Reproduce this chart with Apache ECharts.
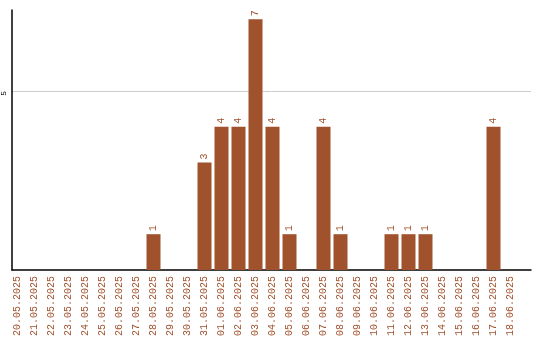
<!DOCTYPE html>
<html><head><meta charset="utf-8">
<script src="https://cdn.jsdelivr.net/npm/echarts@6/dist/echarts.min.js"></script>
<style>html,body{margin:0;padding:0;background:#fff}#c{width:540px;height:340px}</style>
</head><body><div id="c"></div>
<script>
const categories = ["20.05.2025","21.05.2025","22.05.2025","23.05.2025","24.05.2025","25.05.2025","26.05.2025","27.05.2025","28.05.2025","29.05.2025","30.05.2025","31.05.2025","01.06.2025","02.06.2025","03.06.2025","04.06.2025","05.06.2025","06.06.2025","07.06.2025","08.06.2025","09.06.2025","10.06.2025","11.06.2025","12.06.2025","13.06.2025","14.06.2025","15.06.2025","16.06.2025","17.06.2025","18.06.2025"];
const values = [null,null,null,null,null,null,null,null,1,null,null,3,4,4,7,4,1,null,4,1,null,null,1,1,1,null,null,null,4,null];
const yTicks = [5];

const color = '#A0522D';
const font = 'Liberation Mono';
const yMax = 7.26;
const chart = echarts.init(document.getElementById('c'), null, {renderer:'canvas'});
chart.setOption({
  animation:false,
  grid:[
    {left:9,width:510,top:10,bottom:70,containLabel:false},
    {left:11,right:9,top:10,bottom:70,containLabel:false}
  ],
  xAxis:[
    {type:'category',data:categories,gridIndex:0,
      axisLine:{show:false},
      axisTick:{show:false},
      axisLabel:{rotate:90,interval:0,color:color,fontFamily:font,fontSize:10,margin:6}
    },
    {type:'value',gridIndex:1,min:0,max:1,
      axisLine:{show:true,onZero:false,lineStyle:{color:'#000',width:1.5}},
      axisTick:{show:false},axisLabel:{show:false},splitLine:{show:false}
    }
  ],
  yAxis:[
    {type:'value',gridIndex:0,min:0,max:yMax,show:false,splitLine:{show:false}},
    {type:'value',gridIndex:1,min:0,max:yMax,
      axisLine:{show:true,lineStyle:{color:'#000',width:1.5}},
      axisTick:{show:false,customValues:yTicks},
      axisLabel:{customValues:yTicks,rotate:90,color:'#000',fontFamily:font,fontSize:8,margin:4,align:'right',verticalAlign:'bottom'},
      splitLine:{show:true,lineStyle:{color:'#ccc',width:1}}
    }
  ],
  series:[{type:'bar',xAxisIndex:0,yAxisIndex:0,data:values,barWidth:14,itemStyle:{color:color},
    label:{show:true,position:'top',rotate:90,align:'left',verticalAlign:'middle',distance:3,color:color,fontFamily:font,fontSize:10}
  }]
});
</script></body></html>
